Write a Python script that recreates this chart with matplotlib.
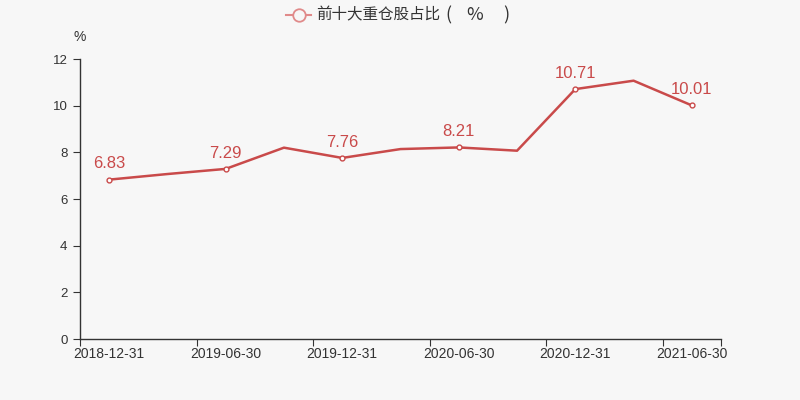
import matplotlib
matplotlib.use("Agg")
import matplotlib.pyplot as plt
from matplotlib.lines import Line2D

dates = ["2018-12-31", "2019-03-31", "2019-06-30", "2019-09-30", "2019-12-31",
         "2020-03-31", "2020-06-30", "2020-09-30", "2020-12-31", "2021-03-31", "2021-06-30"]
values = [6.83, 7.07, 7.29, 8.20, 7.76, 8.14, 8.21, 8.07, 10.71, 11.07, 10.01]
labeled = [0, 2, 4, 6, 8, 10]
yticks = [0, 2, 4, 6, 8, 10, 12]
series_name = "前十大重仓股占比"

plt.rcParams['font.family'] = ['Liberation Sans', 'Noto Sans CJK SC', 'DejaVu Sans']
bg = '#f7f7f7'
red = '#c94a4a'
axc = '#333333'
W, H = 800, 400

fig = plt.figure(figsize=(8, 4), dpi=100, facecolor=bg)
ax = fig.add_axes([0.1, 0.1525, 0.80125, 0.70])
ax.set_facecolor(bg)

x = list(range(len(values)))
ax.plot(x, values, color=red, lw=1.8, zorder=3)
ax.plot([x[i] for i in labeled], [values[i] for i in labeled], 'o', ms=3.5,
        mfc='white', mec=red, mew=1, zorder=4)
for i in labeled:
    ax.annotate(f"{values[i]:.2f}", (x[i], values[i]), xytext=(0, 6),
                textcoords='offset points', ha='center', va='bottom',
                fontsize=12, color=red)

ax.set_xlim(-0.5, len(values) - 0.5)
ax.set_ylim(0, 12)
ax.set_yticks(yticks)
ax.set_yticklabels([str(v) for v in yticks])
ax.set_xticks([-0.5, 1.5, 3.5, 5.5, 7.5, 9.5, 10.5])
ax.set_xticklabels([])
ax.set_xticks(labeled, minor=True)
ax.set_xticklabels([dates[i] for i in labeled], minor=True)
ax.tick_params(axis='x', which='minor', length=0, pad=6, labelsize=10, colors=axc)
ax.tick_params(axis='x', which='major', length=5, color=axc)
ax.tick_params(axis='y', length=5, color=axc, labelsize=9.5, labelcolor=axc, pad=4)

for s in ['top', 'right']:
    ax.spines[s].set_visible(False)
for s in ['left', 'bottom']:
    ax.spines[s].set_color(axc)
    ax.spines[s].set_linewidth(1)

fig.text(0.1, 0.907, '%', ha='center', va='center', fontsize=10, color=axc)

# legend / title
ly = 1 - 15 / H
lc = '#e08a8a'
fig.add_artist(Line2D([286 / W, 311 / W], [ly, ly], color=lc, lw=1.5, transform=fig.transFigure))
fig.add_artist(Line2D([298.5 / W], [ly], marker='o', ms=9, mfc=bg, mec=lc, mew=1.3,
                      transform=fig.transFigure))
cjk = ['Noto Sans CJK SC', 'DejaVu Sans']
fig.text(316 / W, ly, series_name, ha='left', va='center', fontsize=11.2, color=axc, family=cjk)
fig.text(448 / W, ly, '(', ha='center', va='center', fontsize=13, color=axc, family=cjk, weight='light')
fig.text(475 / W, ly, '%', ha='center', va='center', fontsize=13, color=axc, family=cjk)
fig.text(506 / W, ly, ')', ha='center', va='center', fontsize=13, color=axc, family=cjk, weight='light')

fig.savefig('out.png', dpi=100, facecolor=bg)
